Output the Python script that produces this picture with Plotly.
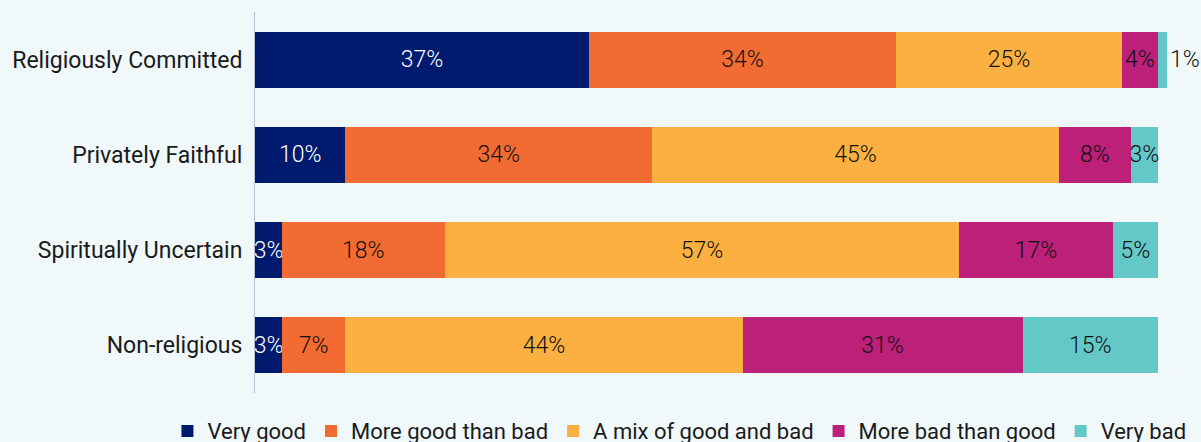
import plotly.graph_objects as go

# Groups shown on the vertical axis, top to bottom
groups = ["Religiously Committed", "Privately Faithful", "Spiritually Uncertain", "Non-religious"]

# Share of each response per group (%)
very_good = [37, 10, 3, 3]
more_good = [34, 34, 18, 7]
mixed = [25, 45, 57, 44]
more_bad = [4, 8, 17, 31]
very_bad = [1, 3, 5, 15]

series = [
    ("Very good", very_good, "#001a6e", "white"),
    ("More good than bad", more_good, "#f26b33", "#111111"),
    ("A mix of good and bad", mixed, "#fbb041", "#111111"),
    ("More bad than good", more_bad, "#bc2079", "#111111"),
    ("Very bad", very_bad, "#64c8c9", "#111111"),
]

FONT = "Roboto"
SIZE = 23
LEGEND_SIZE = 22
BG = "#f0f8fa"

fig = go.Figure()
for name, vals, color, txt_color in series:
    positions = ["outside" if v < 2 else "inside" for v in vals]
    fig.add_trace(go.Bar(
        y=groups,
        x=vals,
        name=name,
        orientation="h",
        marker=dict(color=color, line=dict(width=0)),
        text=[f"{v}%" for v in vals],
        textposition=positions,
        textangle=0,
        insidetextanchor="middle",
        insidetextfont=dict(color=txt_color, size=SIZE, family=FONT, weight=300),
        outsidetextfont=dict(color="#111111", size=SIZE, family=FONT, weight=300),
        cliponaxis=False,
        hoverinfo="skip",
    ))

fig.update_layout(
    barmode="stack",
    bargap=0.41,
    width=1201,
    height=442,
    margin=dict(l=255, r=34, t=12, b=49, autoexpand=False),
    paper_bgcolor=BG,
    plot_bgcolor=BG,
    font=dict(family=FONT, size=SIZE, color="#1a1a1a"),
    uniformtext=dict(minsize=SIZE, mode="show"),
    showlegend=True,
    legend=dict(
        orientation="h",
        x=-0.096,
        xanchor="left",
        y=-0.1,
        yanchor="middle",
        font=dict(size=LEGEND_SIZE, family=FONT, color="#1a1a1a"),
        itemwidth=30,
        traceorder="normal",
        bgcolor="rgba(0,0,0,0)",
    ),
    xaxis=dict(
        range=[0, 101],
        visible=False,
        showgrid=False,
        zeroline=False,
        fixedrange=True,
    ),
    yaxis=dict(
        autorange="reversed",
        showgrid=False,
        zeroline=False,
        showline=True,
        linecolor="#b7c0d6",
        linewidth=1,
        ticks="outside",
        ticklen=7,
        tickcolor="rgba(0,0,0,0)",
        tickfont=dict(size=SIZE, family=FONT, color="#1a1a1a"),
        fixedrange=True,
    ),
)

fig.write_html("out.html")
